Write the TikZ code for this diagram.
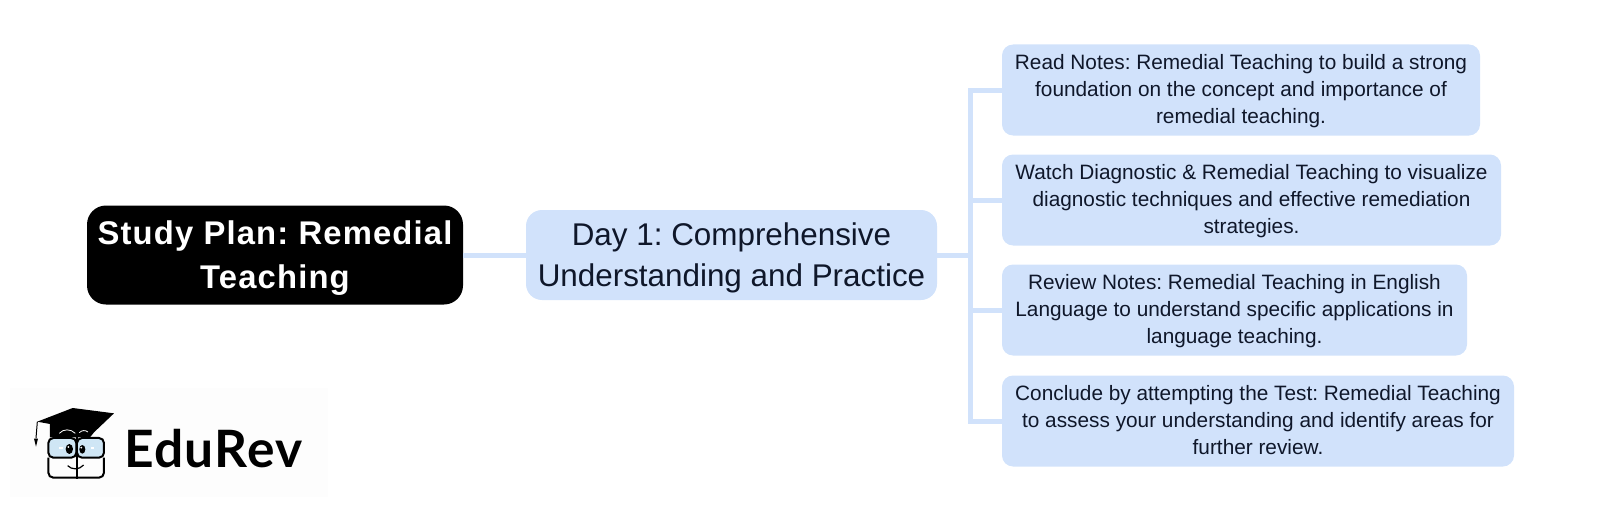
\documentclass[tikz,border=0pt]{standalone}
\usepackage{fontspec}
\setmainfont{Liberation Sans}
\newfontfamily\logofont[LetterSpace=2.5]{Lato}
\newfontfamily\rootfont[LetterSpace=3.5]{Liberation Sans}
\definecolor{boxblue}{HTML}{D1E2FB}
\definecolor{inkblue}{HTML}{0F172A}
\definecolor{lensblue}{HTML}{CFE6F5}
\definecolor{logopaper}{HTML}{FDFDFD}
\tikzset{
    rootbox/.style={fill=black, text=white, rounded corners=19pt, align=center, text depth=0pt, font=\frenchspacing\rootfont\bfseries\fontsize{32.8}{44}\selectfont, minimum width=376pt, minimum height=99pt},
    daybox/.style={fill=boxblue, text=inkblue, rounded corners=16pt, align=center, text depth=1pt, font=\frenchspacing\fontsize{31.4}{41}\selectfont, minimum width=411pt, minimum height=90pt},
    leafbox/.style={fill=boxblue, text=inkblue, rounded corners=11pt, align=center, text depth=2pt, font=\frenchspacing\fontsize{20.8}{27.3}\selectfont, minimum height=91pt},
    branch/.style={boxblue, line width=5pt},
    logoline/.style={black, line width=2pt, rounded corners=5pt}
}
\begin{document}
\begin{tikzpicture}[x=1pt, y=-1pt]
    \useasboundingbox (0, 0) rectangle (1601, 511);
    \fill[logopaper] (10, 388) rectangle (328, 497);
    \node[rootbox] (study) at (275, 255) {Study Plan: Remedial\\Teaching};
    \node[daybox] (day) at (731.5, 255) {Day 1: Comprehensive\\Understanding and Practice};
    \node[leafbox, minimum width=478pt] (notes) at (1241, 90) {Read Notes: Remedial Teaching to build a strong\\foundation on the concept and importance of\\remedial teaching.};
    \node[leafbox, minimum width=499pt] (watch) at (1251.5, 200) {Watch Diagnostic \& Remedial Teaching to visualize\\diagnostic techniques and effective remediation\\strategies.};
    \node[leafbox, minimum width=465pt] (review) at (1234.5, 310) {Review Notes: Remedial Teaching in English\\Language to understand specific applications in\\language teaching.};
    \node[leafbox, minimum width=512pt] (test) at (1258, 421) {Conclude by attempting the Test: Remedial Teaching\\to assess your understanding and identify areas for\\further review.};
    \coordinate (trunktop) at (970, 90);
    \coordinate (trunkmid) at (970, 255);
    \coordinate (trunkbot) at (970, 421);
    \draw[branch] (study) -- (day);
    \draw[branch] (day) -- (trunkmid);
    \draw[branch, line cap=rect] (trunktop) -- (trunkbot);
    \draw[branch] (trunktop) -- (notes);
    \draw[branch] (trunkbot) -- (test);
    \draw[branch] (trunkmid |- watch) -- (watch);
    \draw[branch] (trunkmid |- review) -- (review);
    \begin{scope}[shift={(0, 380)}, x=0.3333pt, y=-0.3333pt]
        \fill[black] (112, 125) -- (218, 84) -- (342, 100) -- (282, 157) -- (270, 172) -- (150, 172) -- (150, 132) -- cycle;
        \draw[black, line width=1pt] (112, 125) -- (108, 175);
        \fill[black] (102, 176) -- (114, 176) -- (108, 200) -- cycle;
        \draw[white, line width=0.8pt] (178, 160) .. controls (190, 146) and (212, 146) .. (226, 160);
        \draw[white, line width=0.8pt] (238, 158) .. controls (246, 150) and (256, 150) .. (264, 156);
        \draw[logoline, fill=lensblue] (145, 174) rectangle (229, 233);
        \draw[logoline, fill=lensblue] (231, 174) rectangle (312, 233);
        \draw[logoline] (145, 233) -- (145, 293) -- (229, 293);
        \draw[logoline] (312, 233) -- (312, 293) -- (231, 293);
        \draw[black, line width=2.2pt] (230, 168) -- (230, 296);
        \fill[black] (208, 207) ellipse [x radius=11, y radius=15];
        \fill[black] (247, 208) ellipse [x radius=9, y radius=13];
        \fill[white] (205, 201) circle (3);
        \fill[white] (244, 203) circle (3);
        \fill[white] (177, 200) rectangle (188, 208);
        \fill[white] (272, 200) rectangle (283, 208);
        \draw[black, line width=1.2pt] (203, 257) .. controls (215, 270) and (238, 270) .. (251, 255);
    \end{scope}
    \node[anchor=base west, inner sep=0pt, text=black, font=\logofont\bfseries\fontsize{51.5}{52}\selectfont] (brand) at (124, 467) {EduRev};
\end{tikzpicture}
\end{document}
